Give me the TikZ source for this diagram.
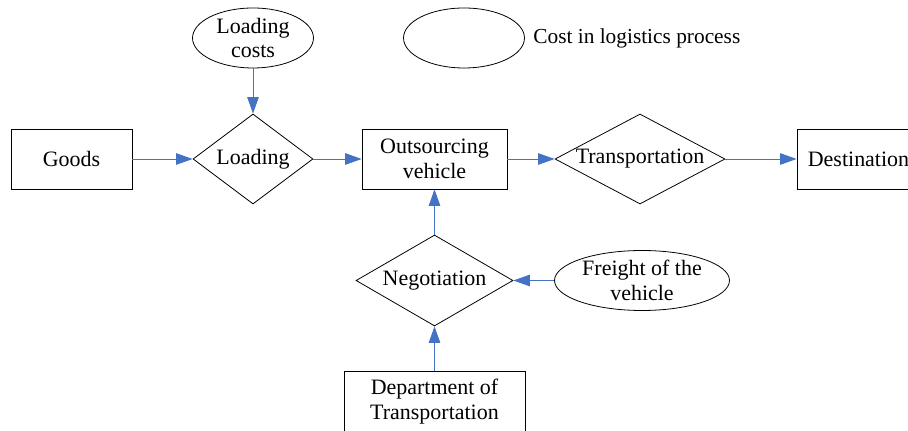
\documentclass[tikz,border=0pt]{standalone}
\usepackage{fontspec}
\setmainfont{Liberation Serif}
\usetikzlibrary{shapes.geometric,arrows.meta}
\definecolor{flowblue}{RGB}{68,114,196}
\begin{document}
\begin{tikzpicture}[x=0.02cm,y=-0.02cm,font=\fontsize{12.5}{14.2}\selectfont,
blk/.style={rectangle,draw=black,line width=0.45pt,align=center,minimum height=1.2cm},
dec/.style={diamond,draw=black,line width=0.45pt,inner sep=0pt},
cost/.style={ellipse,draw=black,line width=0.45pt,align=center,inner xsep=0pt,inner ysep=-1.5pt,minimum height=1.2cm},
flow/.style={draw=flowblue,line width=0.5pt,-{Triangle[length=0.33cm,width=0.23cm]}}]
\def\ymain{159};
\def\ylow{280.5};
\useasboundingbox (0,0) rectangle (908,431);
\clip (0,0) rectangle (908,431);
\node[blk,minimum width=2.42cm] (goods) at (71.5,\ymain) {Goods};
\node[dec,minimum width=2.4cm,minimum height=1.8cm,aspect=1.33] (load) at (253,\ymain) {Loading};
\node[cost,minimum width=2.42cm] (loadcost) at (253,38) {Loading\\costs};
\node[cost,minimum width=2.42cm] (legend) at (464,38) {};
\node[anchor=west,inner sep=0pt,font=\fontsize{12.15}{14}\selectfont] (legendtxt) at (533,38) {Cost in logistics process};
\node[blk,minimum width=2.9cm] (vehicle) at (434.5,\ymain) {Outsourcing\\vehicle};
\node[dec,minimum width=3.4cm,minimum height=1.8cm,aspect=1.89] (trans) at (640,\ymain) {Transportation};
\node[blk,minimum width=2.46cm] (dest) at (858.5,\ymain) {Destination};
\node[dec,minimum width=3.14cm,minimum height=1.82cm,aspect=1.73] (nego) at (434.5,\ylow) {Negotiation};
\node[cost,minimum width=3.5cm] (freight) at (642,\ylow) {Freight of the\\vehicle};
\node[blk,minimum width=3.62cm,minimum height=1.24cm] (dept) at (434.5,402) {Department of\\Transportation};
\draw[flow] (goods) -- (load);
\draw[flow] (loadcost) -- (load);
\draw[flow] (load) -- (vehicle);
\draw[flow] (vehicle) -- (trans);
\draw[flow] (trans) -- (dest);
\draw[flow] (nego) -- (vehicle);
\draw[flow] (freight) -- (nego);
\draw[flow] (dept) -- (nego);
\end{tikzpicture}
\end{document}
